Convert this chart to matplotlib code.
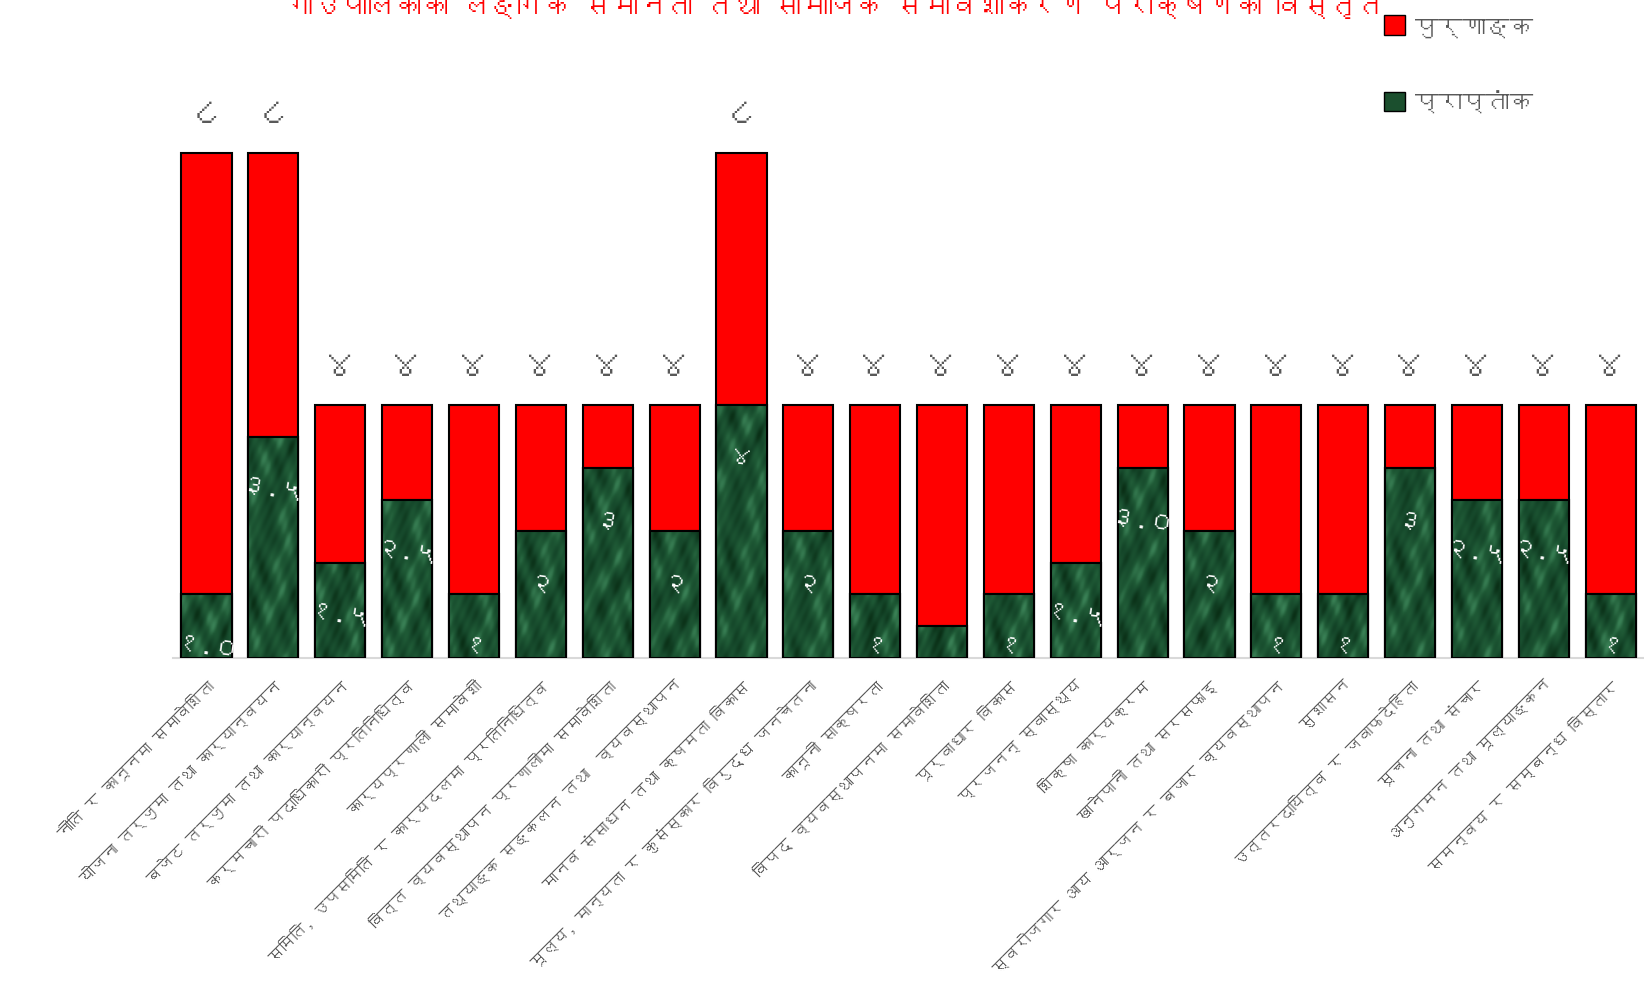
import matplotlib
matplotlib.use("Agg")
import matplotlib.pyplot as plt
import numpy as np
from matplotlib import font_manager
from matplotlib.ft2font import FT2Font
from matplotlib.patches import Patch


categories = [
    "नीति र कानूनमा समावेशिता",
    "योजना तर्जुमा तथा कार्यान्वयन",
    "बजेट तर्जुमा तथा कार्यान्वयन",
    "कर्मचारी पदाधिकारी प्रतिनिधित्व",
    "कार्यप्रणाली समावेशी",
    "समिति, उपसमिति र कार्यदलमा प्रतिनिधित्व",
    "वित्त व्यवस्थापन प्रणालीमा समावेशिता",
    "तथ्याङ्क सङ्कलन तथा  व्यवस्थापन",
    "मानव संसाधन तथा क्षमता विकास",
    "मूल्य, मान्यता र कुसंस्कार विरुद्ध जनचेतना",
    "कानूनी साक्षरता",
    "विपद् व्यवस्थापनमा समावेशिता",
    "पूर्वाधार विकास",
    "प्रजनन् स्वास्थ्य",
    "शिक्षा कार्यक्रम",
    "खानेपानी तथा सरसफाइ",
    "स्वरोजगार आय आर्जन र बजार व्यवस्थापन",
    "सुशासन",
    "उत्तरदायित्व र जवाफदेहिता",
    "सूचना तथा संचार",
    "अनुगमन तथा मूल्याङ्कन",
    "समन्वय र सम्बन्ध विस्तार",
]

full_marks = [8, 8, 4, 4, 4, 4, 4, 4, 8, 4, 4, 4, 4, 4, 4, 4, 4, 4, 4, 4, 4, 4]
obtained = [1.0, 3.5, 1.5, 2.5, 1, 2, 3, 2, 4, 2, 1, 0.5, 1, 1.5, 3.0, 2, 1, 1, 3, 2.5, 2.5, 1]
obtained_labels = ["१.०", "३.५", "१.५", "२.५", "१", "२", "३", "२", "४", "२", "१", "०.५",
                   "१", "१.५", "३.०", "२", "१", "१", "३", "२.५", "२.५", "१"]

series_names = ["पुर्णाङ्क", "प्राप्तांक"]
title = "गाउँपालिकाको लैङ्गिक समानता तथा सामाजिक समावेशीकरण परीक्षणको विस्तृत"

NEPALI_DIGITS = str.maketrans("0123456789", "०१२३४५६७८९")


def devanagari_family():
    for f in font_manager.fontManager.ttflist:
        try:
            if 0x0915 in FT2Font(f.fname).get_charmap():
                return f.name
        except Exception:
            pass
    return None


fam = devanagari_family()
families = [fam, "DejaVu Sans"] if fam else ["DejaVu Sans"]
plt.rcParams["font.family"] = families

GRAY = "#595959"
RED = "#ff0000"
GREEN = "#1b4f2e"

fig = plt.figure(figsize=(16.44, 9.87), dpi=100)
ax = fig.add_axes([0.1053, 0.3328, 0.8948, 0.6393])

x = np.arange(len(categories))
width = 0.75

ax.bar(x, full_marks, width, color=RED, edgecolor="black", linewidth=1.5, zorder=2)
green = ax.bar(x, obtained, width, color=GREEN, edgecolor="black", linewidth=1.5, zorder=3)

# mottled marble texture over the green bars
gy, gx = np.mgrid[0:240, 0:40].astype(float)
tex = (np.sin(gx * 0.21 + gy * 0.13 + 2.0 * np.sin(gy * 0.05))
       + 0.8 * np.sin(gx * 0.47 - gy * 0.19 + 1.5 * np.cos(gx * 0.09))
       + 0.6 * np.sin(gy * 0.31 + 2.5 * np.sin(gx * 0.17 + gy * 0.02))
       + 0.4 * np.sin(gx * 0.9 + gy * 0.7))
tex = (tex - tex.min()) / (tex.max() - tex.min())
cmap = matplotlib.colors.LinearSegmentedColormap.from_list(
    "marble", ["#0a2f16", "#15472a", "#1f5a36", "#3a8156"])
for i, p in enumerate(green):
    x0, y0, w, h = p.get_x(), p.get_y(), p.get_width(), p.get_height()
    rows = max(int(h / 4 * 120), 2)
    start = (i * 13) % 100
    ax.imshow(tex[start:start + rows], extent=(x0, x0 + w, y0, y0 + h),
              aspect="auto", cmap=cmap, zorder=3.5, interpolation="bilinear")
    ax.add_patch(plt.Rectangle((x0, y0), w, h, fill=False, edgecolor="black", linewidth=1.5, zorder=4))

for xi, v in zip(x, full_marks):
    ax.annotate(str(v).translate(NEPALI_DIGITS), (xi, v), xytext=(0, 28), textcoords="offset points",
                ha="center", va="center", fontsize=27, color=GRAY)

for xi, v, lab in zip(x, obtained, obtained_labels):
    ax.annotate(lab, (xi, v), xytext=(0, -38), textcoords="offset points", ha="center", va="center",
                fontsize=19, fontweight="bold", color="white", rotation=-8, zorder=5,
                annotation_clip=False, clip_on=True)

ax.set_xlim(-0.5, len(categories) - 0.5)
ax.set_ylim(0, 10)
ax.set_xticks(x)
ax.set_xticklabels(categories, rotation=45, ha="right", rotation_mode="anchor", fontsize=13.5, color=GRAY)
ax.tick_params(axis="x", length=0, pad=14)
ax.set_yticks([])
for s in ["top", "right", "left"]:
    ax.spines[s].set_visible(False)
ax.spines["bottom"].set_color("#d9d9d9")
ax.spines["bottom"].set_linewidth(1.5)

handles = [Patch(facecolor=RED, edgecolor="black"), Patch(facecolor=GREEN, edgecolor="black")]
fig.legend(handles, series_names, loc="upper left", bbox_to_anchor=(0.829, 1.005), frameon=False,
           fontsize=17, labelcolor=GRAY, handlelength=0.9, handleheight=0.9, handletextpad=0.4,
           labelspacing=2.25)

# title is mostly cut off at the top edge, as in the original
t = fig.text(0.508, 1 - 16 / 987, title, ha="center", va="baseline", fontsize=30, color=RED,
             fontweight="bold")
renderer = fig.canvas.get_renderer()
tw = t.get_window_extent(renderer).width
t.set_fontsize(30 * 1096 / tw)

# shrink the slanted category names until the longest one fits above the bottom edge
size = 13.5
for _ in range(10):
    low = min(lbl.get_window_extent(renderer).y0 for lbl in ax.get_xticklabels())
    if low >= 4:
        break
    size *= 0.96
    for lbl in ax.get_xticklabels():
        lbl.set_fontsize(size)

fig.savefig("out.png", dpi=100)
